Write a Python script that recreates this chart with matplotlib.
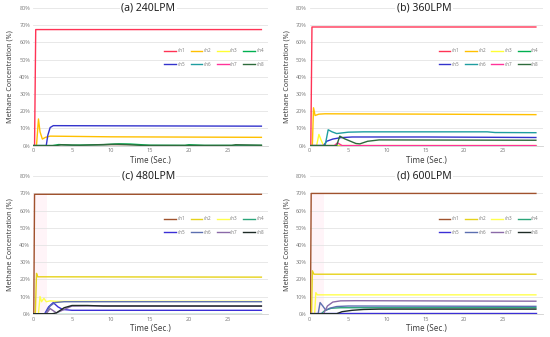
import matplotlib
matplotlib.use("Agg")
from matplotlib import pyplot as plt

plt.rcParams['font.family'] = ['Noto Sans', 'DejaVu Sans']

# knots (time s, concentration %)
a_ch1 = [(0, 0), (0.2, 0), (0.35, 67.5), (29.3, 67.5)]
a_ch2 = [(0, 0), (0.45, 0), (0.7, 15.5), (0.9, 8), (1.2, 3.8), (1.6, 4.8), (2.2, 5.5), (10, 5.1), (29.3, 4.8)]
a_ch3 = [(0, 0), (29.3, 0)]
a_ch4 = [(0, 0), (2.5, 0), (3.3, 0.6), (5, 0.2), (9, 0.5), (11, 1.0), (12.5, 0.9), (15, 0.2), (19.5, 0.1), (20, 0.5), (22, 0.1), (29.3, 0.1)]
a_ch5 = [(0, 0), (1.7, 0), (1.9, 6), (2.2, 10.5), (2.6, 11.6), (10, 11.5), (29.3, 11.3)]
a_ch6 = [(0, 0), (29.3, 0)]
a_ch7 = [(0, 0), (29.3, 0)]
a_ch8 = [(0, 0), (3, 0), (3.6, 0.5), (6, 0.2), (10.5, 0.8), (12, 0.6), (14, 0.1), (25.5, 0.1), (26, 0.5), (29.3, 0.2)]

b_ch1 = [(0, 0), (0.15, 0), (0.3, 69), (29.3, 69)]
b_ch2 = [(0, 0), (0.35, 0), (0.5, 22), (0.7, 17.5), (1.2, 18.3), (2, 18.5), (15, 18.3), (29.3, 18.0)]
b_ch3 = [(0, 0), (0.9, 0), (1.2, 6.5), (1.5, 3), (1.8, 0), (29.3, 0)]
b_ch4 = [(0, 0), (29.3, 0)]
b_ch5 = [(0, 0), (1.8, 0), (2.2, 2.5), (3, 3.8), (4, 4.6), (5.5, 5), (15, 5), (29.3, 4.7)]
b_ch6 = [(0, 0), (2, 0), (2.4, 9.2), (2.9, 8), (3.5, 7), (5, 7.8), (7, 8), (23, 8), (24, 7.6), (29.3, 7.5)]
b_ch7 = [(0, 0), (3.2, 0), (3.6, 1.6), (4.2, 0), (29.3, 0)]
b_ch8 = [(0, 0), (3.5, 0), (3.9, 5.5), (4.5, 4), (6, 1.2), (6.5, 1), (7.5, 2.5), (9, 3.3), (29.3, 3.1)]

c_ch1 = [(0, 0), (0.1, 0), (0.2, 69.5), (29.3, 69.5)]
c_ch2 = [(0, 0), (0.3, 0), (0.45, 23.5), (0.6, 21.5), (29.3, 21.3)]
c_ch3 = [(0, 0), (0.7, 0), (0.9, 10), (1.1, 7), (1.4, 9), (1.7, 7), (2.2, 7.5), (3, 7.2), (29.3, 7.2)]
c_ch4 = [(0, 0), (29.3, 0)]
c_ch5 = [(0, 0), (1.5, 0), (2, 4), (2.6, 6.5), (3.2, 4), (3.8, 2.5), (5, 2), (29.3, 2)]
c_ch6 = [(0, 0), (1.6, 0), (2.2, 4.5), (2.8, 6.5), (4, 7), (29.3, 7)]
c_ch7 = [(0, 0), (1.7, 0), (2.2, 3), (3, 0.5), (3.5, 1.5), (5, 4.5), (7, 4.6), (29.3, 4.4)]
c_ch8 = [(0, 0), (2.5, 0), (3, 0.5), (4, 3.5), (5, 4.8), (7, 4.8), (9, 4.5), (29.3, 4.5)]

d_ch1 = [(0, 0), (0.1, 0), (0.2, 70), (29.3, 70)]
d_ch2 = [(0, 0), (0.25, 0), (0.35, 25), (0.55, 23), (29.3, 23)]
d_ch3 = [(0, 0), (0.65, 0), (0.8, 12.3), (1, 11), (29.3, 11)]
d_ch4 = [(0, 0), (1.5, 0), (2, 2), (2.8, 3.2), (4, 3.5), (29.3, 3.5)]
d_ch5 = [(0, 0.2), (29.3, 0.2)]
d_ch6 = [(0, 0), (1.1, 0), (1.35, 6.5), (1.7, 4.5), (2.1, 2), (2.6, 3.2), (3.5, 4.2), (5, 4.5), (29.3, 4.3)]
d_ch7 = [(0, 0), (1.8, 0), (2.3, 4.5), (3, 6.8), (4, 7.5), (6, 7.6), (29.3, 7.3)]
d_ch8 = [(0, 0), (3.5, 0), (4.2, 1.2), (5.5, 2), (7, 2.5), (9, 2.7), (29.3, 2.7)]

titles = ['(a) 240LPM', '(b) 360LPM', '(c) 480LPM', '(d) 600LPM']
channels = ['ch1', 'ch2', 'ch3', 'ch4', 'ch5', 'ch6', 'ch7', 'ch8']
x_ticks = [0, 5, 10, 15, 20, 25]
y_ticks = [0, 10, 20, 30, 40, 50, 60, 70, 80]

colors_ab = ['#ff3355', '#ffc000', '#ffff33', '#00b050', '#3333cc', '#1f9ea0', '#ff3399', '#2e6b3c']
colors_cd = ['#a0522d', '#e6d21a', '#ffff4d', '#2aa57a', '#3b2fd6', '#5c6fb0', '#8a6aa8', '#1e2b26']

panels = [
    [a_ch1, a_ch2, a_ch3, a_ch4, a_ch5, a_ch6, a_ch7, a_ch8],
    [b_ch1, b_ch2, b_ch3, b_ch4, b_ch5, b_ch6, b_ch7, b_ch8],
    [c_ch1, c_ch2, c_ch3, c_ch4, c_ch5, c_ch6, c_ch7, c_ch8],
    [d_ch1, d_ch2, d_ch3, d_ch4, d_ch5, d_ch6, d_ch7, d_ch8],
]
panel_colors = [colors_ab, colors_ab, colors_cd, colors_cd]

fig = plt.figure(figsize=(5.5, 3.37), dpi=100)
boxes = [
    (0.060, 0.568, 0.428, 0.408),
    (0.563, 0.568, 0.424, 0.408),
    (0.060, 0.069, 0.428, 0.408),
    (0.563, 0.069, 0.424, 0.408),
]

for box, title, series, cols in zip(boxes, titles, panels, panel_colors):
    ax = fig.add_axes(box)
    handles = []
    for name, pts, c in zip(channels, series, cols):
        t = [p[0] for p in pts]
        v = [p[1] for p in pts]
        h, = ax.plot(t, v, color=c, lw=1.0, label=name)
        handles.append(h)
    if cols is colors_cd:
        ax.axvspan(0, 1.8, ymax=70 / 80, color='#ffd6e6', alpha=0.25, lw=0, zorder=0)
    ax.set_xlim(0, 30.2)
    ax.set_ylim(0, 80)
    ax.set_xticks(x_ticks)
    ax.set_yticks(y_ticks)
    ax.set_yticklabels([f'{y}%' for y in y_ticks])
    ax.tick_params(labelsize=4, colors='#808080', length=0, pad=2)
    ax.grid(axis='y', color='#e4e4e4', lw=0.6)
    ax.set_axisbelow(True)
    for s in ['top', 'right', 'left']:
        ax.spines[s].set_visible(False)
    ax.spines['bottom'].set_color('#d0d0d0')
    ax.spines['bottom'].set_linewidth(0.6)
    ax.set_xlabel('Time (Sec.)', fontsize=5.8, color='#404040', labelpad=2)
    ax.set_ylabel('Methane Concentration (%)', fontsize=5.2, color='#404040', labelpad=4)
    ax.text(0.49, 1.0, title, transform=ax.transAxes, ha='center', va='center',
            fontsize=7.5, color='#222222',
            bbox=dict(facecolor='white', edgecolor='none', pad=1))
    order = [0, 4, 1, 5, 2, 6, 3, 7]
    ax.legend([handles[i] for i in order], [channels[i] for i in order],
              ncol=4, loc='center right', bbox_to_anchor=(1.0, 0.64),
              fontsize=3.3, frameon=False, handlelength=2.6, handletextpad=0.3,
              columnspacing=1.2, labelspacing=1.9, labelcolor='#808080')

plt.savefig('out.png', dpi=100)
